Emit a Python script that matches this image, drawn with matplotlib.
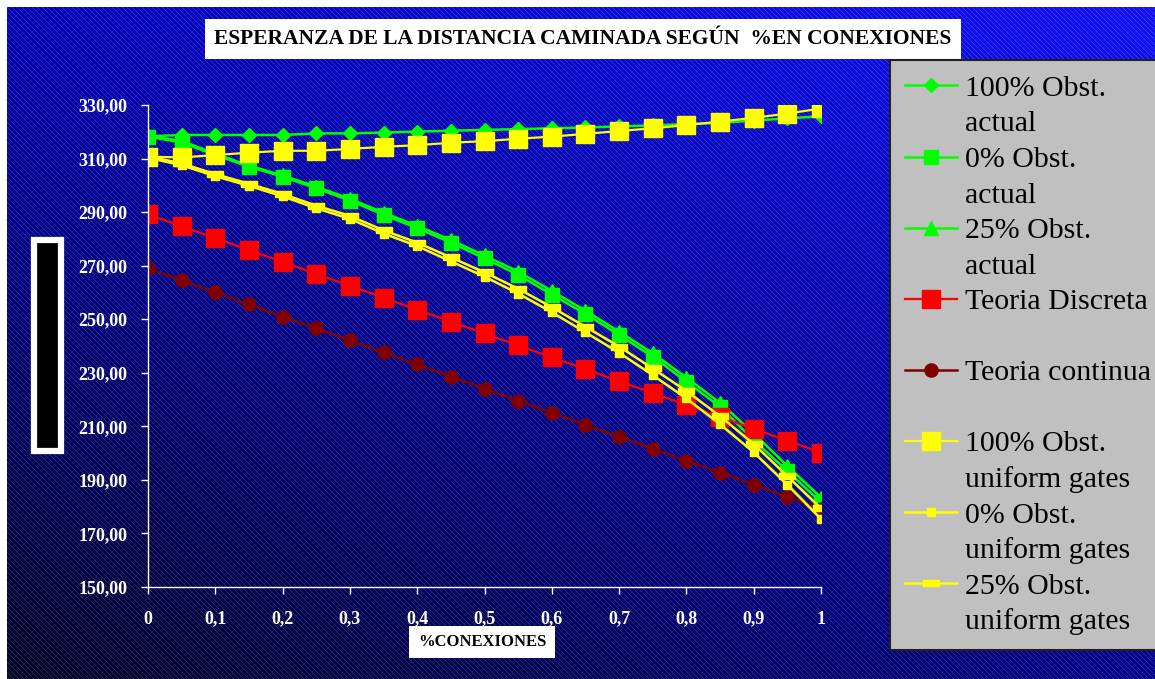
import matplotlib
matplotlib.use("Agg")
import matplotlib.pyplot as plt
import numpy as np
from matplotlib.lines import Line2D
from matplotlib.patches import Rectangle
from matplotlib.ticker import FuncFormatter

# % de conexiones (eje x)
conexiones = [0, 0.05, 0.1, 0.15, 0.2, 0.25, 0.3, 0.35, 0.4, 0.45, 0.5,
              0.55, 0.6, 0.65, 0.7, 0.75, 0.8, 0.85, 0.9, 0.95, 1]

obs100_actual = [318.3, 318.8, 318.8, 318.8, 318.8, 319.4, 319.4, 319.7, 320.1, 320.4, 320.7,
                 321.0, 321.3, 321.6, 322.0, 322.4, 322.9, 323.3, 324.2, 325.0, 325.8]
obs0_actual = [318.2, 316.0, 311.3, 307.0, 303.2, 298.9, 294.3, 289.0, 284.0, 278.6, 272.7,
               266.6, 259.2, 252.0, 244.1, 236.0, 226.7, 217.3, 204.8, 193.3, 181.6]
obs25_actual = [318.4, 316.6, 311.8, 307.4, 303.7, 299.5, 295.0, 289.8, 284.9, 279.6, 273.8,
                267.8, 260.6, 253.2, 245.4, 237.3, 228.2, 218.8, 207.4, 195.2, 183.4]
teoria_discreta = [289.2, 284.7, 280.3, 275.8, 271.4, 266.9, 262.5, 258.0, 253.6, 249.1, 244.7,
                   240.2, 235.8, 231.3, 226.9, 222.4, 218.0, 213.5, 209.1, 204.6, 200.2]
teoria_continua = [269.0, 264.5, 260.0, 255.5, 251.0, 246.6, 242.1, 237.6, 233.1, 228.6, 224.1,
                   219.6, 215.1, 210.6, 206.1, 201.7, 197.2, 192.7, 188.2, 183.7, 179.3]
obs100_uniform = [310.7, 310.4, 311.3, 312.2, 312.9, 312.9, 313.6, 314.4, 315.0, 315.9, 316.5,
                  317.4, 318.2, 319.2, 320.3, 321.3, 322.5, 323.8, 325.2, 326.8, 328.7]
obs0_uniform = [310.3, 307.5, 303.4, 299.8, 295.9, 291.4, 287.5, 282.0, 277.3, 271.6, 265.9,
                259.6, 252.6, 245.1, 237.5, 229.1, 220.4, 210.8, 200.3, 188.2, 175.4]
obs25_uniform = [310.8, 308.2, 304.2, 300.6, 296.8, 292.4, 288.6, 283.2, 278.6, 273.1, 267.5,
                 261.4, 254.5, 247.2, 239.8, 231.6, 223.2, 213.8, 203.4, 191.4, 179.4]

nombres = ["100% Obst.\nactual", "0% Obst.\nactual", "25% Obst.\nactual",
           "Teoria Discreta", "Teoria continua",
           "100% Obst.\nuniform gates", "0% Obst.\nuniform gates", "25% Obst.\nuniform gates"]

x_ticks = [0, 0.1, 0.2, 0.3, 0.4, 0.5, 0.6, 0.7, 0.8, 0.9, 1]
x_labels = ["0", "0,1", "0,2", "0,3", "0,4", "0,5", "0,6", "0,7", "0,8", "0,9", "1"]
y_ticks = [150, 170, 190, 210, 230, 250, 270, 290, 310, 330]

titulo = "ESPERANZA DE LA DISTANCIA CAMINADA SEGÚN  %EN CONEXIONES"
xlabel = "%CONEXIONES"

serif = "Liberation Serif"
W, H = 1155, 679
fig = plt.figure(figsize=(W / 100, H / 100), dpi=100)
fig.patch.set_facecolor("white")

# fondo degradado azul con rayado diagonal
bw, bh = W - 7, H - 7
yy, xx = np.mgrid[0:bh, 0:bw]
xn = xx / (bw - 1)
yn = 1 - yy / (bh - 1)
blue = 40 + 140 * yn + 98 * xn - 38 * xn * yn
rg = 4 + 14 * xn * yn
img = np.stack([rg, rg, blue], axis=-1)
rayas = ((xx - yy) % 5 == 0)
img[rayas] += np.array([38, 38, 30])
img = np.clip(img, 0, 255).astype(np.uint8)
bg = fig.add_axes([7 / W, 0, bw / W, bh / H], zorder=-10)
bg.imshow(img, aspect="auto", interpolation="nearest")
bg.axis("off")

ax = fig.add_axes([148 / W, (H - 587) / H, 673 / W, 482 / H])
ax.set_facecolor("none")

l1, = ax.plot(conexiones, obs100_actual, color="#00FF00", lw=1.8, marker="D", ms=7.5)
l2, = ax.plot(conexiones, obs0_actual, color="#00FF00", lw=1.8, marker="s", ms=9.5)
l3, = ax.plot(conexiones, obs25_actual, color="#00FF00", lw=1.8, marker="^", ms=9.5)
l4, = ax.plot(conexiones, teoria_discreta, color="#FF0000", lw=1.6, marker="s", ms=13)
l5, = ax.plot(conexiones, teoria_continua, color="#800000", lw=1.8, marker="o", ms=9.5)
l6, = ax.plot(conexiones, obs100_uniform, color="#FFFF00", lw=1.6, marker="s", ms=13)
l7, = ax.plot(conexiones, obs0_uniform, color="#FFFF00", lw=1.8, marker="s", ms=6)
rect_ancho = [(-1, -0.4), (1, -0.4), (1, 0.4), (-1, 0.4), (-1, -0.4)]
l8, = ax.plot(conexiones, obs25_uniform, color="#FFFF00", lw=1.8, marker=rect_ancho, ms=11)

ax.set_xlim(0, 1)
ax.set_ylim(150, 330)
ax.set_xticks(x_ticks)
ax.set_xticklabels(x_labels)
ax.set_yticks(y_ticks)
ax.yaxis.set_major_formatter(FuncFormatter(lambda v, p: f"{v:.2f}".replace(".", ",")))
for s in ["top", "right"]:
    ax.spines[s].set_visible(False)
for s in ["left", "bottom"]:
    ax.spines[s].set_color("white")
    ax.spines[s].set_linewidth(1)
ax.tick_params(colors="white", direction="out", length=5, width=1)
ax.tick_params(axis="y", pad=10)
ax.tick_params(axis="x", pad=12)
for lab in ax.get_xticklabels() + ax.get_yticklabels():
    lab.set_fontfamily(serif)
    lab.set_fontweight("bold")
    lab.set_fontsize(13)
    lab.set_color("white")

# leyenda: una fila por linea de texto
handles, labels = [], []
vacio = Line2D([], [], linestyle="none")
for linea, nombre in zip([l1, l2, l3, l4, l5, l6, l7, l8], nombres):
    partes = nombre.split("\n")
    handles.append(linea)
    labels.append(partes[0])
    if len(partes) > 1:
        handles.append(vacio)
        labels.append(partes[1])
    else:
        handles.append(vacio)
        labels.append(" ")
leg = fig.legend(handles, labels, loc="upper left", bbox_to_anchor=(890 / W, 1 - 60 / H),
                 prop={"family": serif, "size": 21.5}, labelspacing=0.29, handlelength=1.75,
                 handletextpad=0.25, borderpad=0.5, borderaxespad=0, fancybox=False)
leg.get_frame().set_facecolor("#C0C0C0")
leg.get_frame().set_edgecolor("#202020")
leg.get_frame().set_linewidth(1.5)
leg.get_frame().set_alpha(1)

fig.text(583 / W, 1 - 39 / H, titulo, ha="center", va="center", fontsize=15.5,
         fontweight="bold", family=serif, color="black",
         bbox=dict(facecolor="white", edgecolor="none", boxstyle="square,pad=0.45"))
fig.text(482 / W, 1 - 642 / H, xlabel, ha="center", va="center", fontsize=12,
         fontweight="bold", family=serif, color="black",
         bbox=dict(facecolor="white", edgecolor="none", boxstyle="square,pad=0.5"))

# rotulo del eje y
fig.patches.append(Rectangle((33.5 / W, 1 - 451 / H), 27 / W, 211 / H, transform=fig.transFigure,
                             facecolor="black", edgecolor="white", linewidth=4.5, zorder=5))

fig.savefig("out.png", dpi=100)
